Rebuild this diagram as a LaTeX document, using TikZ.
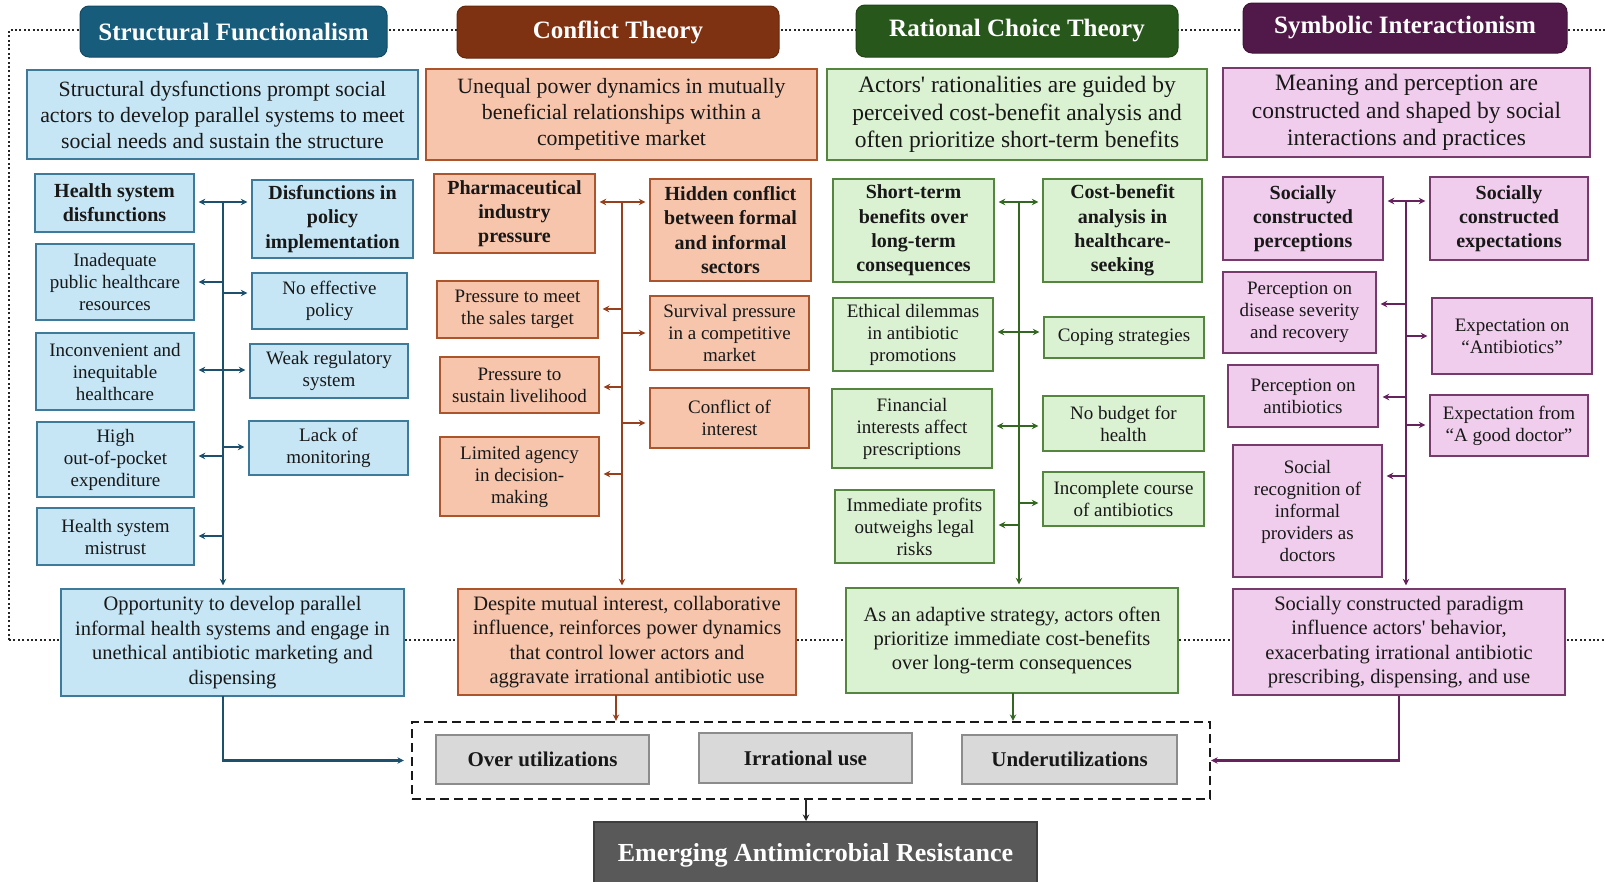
\documentclass[tikz,border=0pt]{standalone}
\usepackage{fontspec}
\setmainfont{Liberation Serif}[Ligatures=TeXOff]
\usetikzlibrary{arrows.meta}

% theory colours: T = title fill, F = box fill, B = box border, A = arrows
\definecolor{blT}{RGB}{24,92,124}
\definecolor{blF}{RGB}{198,229,245}
\definecolor{blB}{RGB}{62,122,154}
\definecolor{blA}{RGB}{28,80,108}
\definecolor{brT}{RGB}{127,50,18}
\definecolor{brF}{RGB}{246,197,172}
\definecolor{brB}{RGB}{172,84,44}
\definecolor{brA}{RGB}{150,64,30}
\definecolor{grT}{RGB}{40,87,27}
\definecolor{grF}{RGB}{218,241,210}
\definecolor{grB}{RGB}{84,134,64}
\definecolor{grA}{RGB}{52,104,34}
\definecolor{puT}{RGB}{81,25,73}
\definecolor{puF}{RGB}{241,205,237}
\definecolor{puB}{RGB}{118,58,108}
\definecolor{puA}{RGB}{102,34,92}
\definecolor{txt}{RGB}{24,24,24}
\definecolor{useF}{RGB}{217,217,217}
\definecolor{useB}{RGB}{140,140,140}
\definecolor{amrF}{RGB}{89,89,89}
\definecolor{amrB}{RGB}{62,62,62}

\tikzset{
  every node/.style={inner sep=0pt, align=center, text=txt},
  sz/.style 2 args={minimum width=#1, minimum height=#2},
  ttl/.style={rounded corners=9pt, fill=#1T, draw=#1T!80!black, line width=1pt,
    text=white, font=\fontsize{25}{29}\selectfont\bfseries},
  cbox/.style={fill=#1F, draw=#1B, line width=1.4pt},
  fdesc/.style={font=\fontsize{21.8}{26}\selectfont},
  fdescL/.style={font=\fontsize{23.5}{27.5}\selectfont},
  fbold/.style={font=\fontsize{20}{24.3}\selectfont\bfseries},
  freg/.style={font=\fontsize{19}{22}\selectfont},
  fres/.style={font=\fontsize{20.5}{24.4}\selectfont},
  usebox/.style={fill=useF, draw=useB, line width=2.6pt,
    font=\fontsize{21}{25}\selectfont\bfseries},
  tip/.style={-{Stealth[length=6.5pt,width=6.5pt]}},
  arr/.style={line width=2pt, draw=#1, tip, shorten >=4pt},
  darr/.style={line width=2pt, draw=#1,
    {Stealth[length=6.5pt,width=6.5pt]}-{Stealth[length=6.5pt,width=6.5pt]},
    shorten >=4pt, shorten <=4pt},
  trunk/.style={line width=2.6pt, draw=#1, tip, shorten >=3pt},
  conn/.style={line width=2.2pt, draw=#1, tip},
  frame/.style={line width=2pt, dash pattern=on 2pt off 2.4pt, draw=black!85},
  grpbox/.style={line width=2.2pt, dash pattern=on 9pt off 5pt, draw=black!90},
}

\begin{document}
\begin{tikzpicture}[x=1pt,y=-1pt]
\useasboundingbox (0,0) rectangle (1605,881);

% dotted frame behind the theory headings and conclusions
\draw[frame] (9,640) -- (9,30) -- (1605,30);
\draw[frame] (9,640) -- (1605,640);

% ---------------- Structural Functionalism ----------------
\node[ttl=bl, sz={307}{51}] (T1) at (233.5,31.5) {Structural Functionalism};
\node[cbox=bl, fdesc, sz={391}{89}] (D1) at (222.5,114.5)
  {Structural dysfunctions prompt social\\actors to develop parallel systems to meet\\social needs and sustain the structure};
\node[cbox=bl, fbold, sz={159}{58}] (B1) at (114.5,203) {Health system\\disfunctions};
\node[cbox=bl, fbold, sz={161}{78}] (B2) at (332.5,219) {Disfunctions in\\policy\\implementation};
\node[cbox=bl, freg, sz={158}{76}] (B3) at (115,282) {Inadequate\\public healthcare\\resources};
\node[cbox=bl, freg, sz={155}{56}] (B4) at (329.5,301) {No effective\\policy};
\node[cbox=bl, freg, sz={158}{77}] (B5) at (115,371.5) {Inconvenient and\\inequitable\\healthcare};
\node[cbox=bl, freg, sz={158}{54}] (B6) at (329,371) {Weak regulatory\\system};
\node[cbox=bl, freg, sz={157}{75}] (B7) at (115.5,459.5) {High\\out-of-pocket\\expenditure};
\node[cbox=bl, freg, sz={159}{54}] (B8) at (328.5,448) {Lack of\\monitoring};
\node[cbox=bl, freg, sz={157}{57}] (B9) at (115.5,536.5) {Health system\\mistrust};
\node[cbox=bl, fres, sz={343}{107}] (R1) at (232.5,642.5)
  {Opportunity to develop parallel\\informal health systems and engage in\\unethical antibiotic marketing and\\dispensing};

\coordinate (bt) at (223,202);
\draw[darr=blA] (B1.east |- bt) -- (B2.west |- bt);
\draw[trunk=blA] (bt) -- (R1.north -| bt);
\foreach \n/\yy/\sd in {B3/282/east, B4/293/west, B5/370/east, B6/370/west,
                        B7/456/east, B8/447/west, B9/536/east}{
  \coordinate (k\n) at (223,\yy);
  \draw[arr=blA] (k\n) -- (\n.\sd |- k\n);
}

% ---------------- Conflict Theory ----------------
\node[ttl=br, sz={322}{52}] (T2) at (618,32) {Conflict Theory};
\node[cbox=br, fdesc, sz={391}{91}] (D2) at (621.5,114.5)
  {Unequal power dynamics in mutually\\beneficial relationships within a\\competitive market};
\node[cbox=br, fbold, sz={161}{79}] (C1) at (514.5,213.5) {Pharmaceutical\\industry\\pressure};
\node[cbox=br, fbold, sz={161}{102}] (C2) at (730.5,230) {Hidden conflict\\between formal\\and informal\\sectors};
\node[cbox=br, freg, sz={161}{57}] (C3) at (517.5,309.5) {Pressure to meet\\the sales target};
\node[cbox=br, freg, sz={159}{74}] (C4) at (729.5,333) {Survival pressure\\in a competitive\\market};
\node[cbox=br, freg, sz={159}{56}] (C5) at (519.5,385) {Pressure to\\sustain livelihood};
\node[cbox=br, freg, sz={159}{60}] (C6) at (729.5,418) {Conflict of\\interest};
\node[cbox=br, freg, sz={159}{79}] (C7) at (519.5,476.5) {Limited agency\\in decision-\\making};
\node[cbox=br, fres, sz={338}{106}] (R2) at (627,642)
  {Despite mutual interest, collaborative\\influence, reinforces power dynamics\\that control lower actors and\\aggravate irrational antibiotic use};

\coordinate (ct) at (622,202);
\draw[darr=brA] (C1.east |- ct) -- (C2.west |- ct);
\draw[trunk=brA] (ct) -- (R2.north -| ct);
\foreach \n/\yy/\sd in {C3/309/east, C4/333/west, C5/387/east, C6/423/west, C7/474/east}{
  \coordinate (k\n) at (622,\yy);
  \draw[arr=brA] (k\n) -- (\n.\sd |- k\n);
}

% ---------------- Rational Choice Theory ----------------
\node[ttl=gr, sz={322}{52}] (T3) at (1017,31) {Rational Choice Theory};
\node[cbox=gr, fdescL, sz={380}{91}] (D3) at (1017,114.5)
  {Actors' rationalities are guided by\\perceived cost-benefit analysis and\\often prioritize short-term benefits};
\node[cbox=gr, fbold, sz={161}{103}] (G1) at (913.5,230.5) {Short-term\\benefits over\\long-term\\consequences};
\node[cbox=gr, fbold, sz={159}{103}] (G2) at (1122.5,230.5) {Cost-benefit\\analysis in\\healthcare-\\seeking};
\node[cbox=gr, freg, sz={160}{73}] (G3) at (913,334.5) {Ethical dilemmas\\in antibiotic\\promotions};
\node[cbox=gr, freg, sz={160}{41}] (G4) at (1124,337.5) {Coping strategies};
\node[cbox=gr, freg, sz={160}{79}] (G5) at (912,428.5) {Financial\\interests affect\\prescriptions};
\node[cbox=gr, freg, sz={161}{55}] (G6) at (1123.5,423.5) {No budget for\\health};
\node[cbox=gr, freg, sz={161}{54}] (G7) at (1123.5,499) {Incomplete course\\of antibiotics};
\node[cbox=gr, freg, sz={159}{73}] (G8) at (914.5,526.5) {Immediate profits\\outweighs legal\\risks};
\node[cbox=gr, fres, sz={332}{105}] (R3) at (1012,640.5)
  {As an adaptive strategy, actors often\\prioritize immediate cost-benefits\\over long-term consequences};

\coordinate (gt) at (1019,202);
\draw[darr=grA] (G1.east |- gt) -- (G2.west |- gt);
\draw[trunk=grA] (gt) -- (R3.north -| gt);
\foreach \n/\yy/\sd in {G3/332/east, G4/332/west, G5/426/east, G6/426/west,
                        G7/503/west, G8/525/east}{
  \coordinate (k\n) at (1019,\yy);
  \draw[arr=grA] (k\n) -- (\n.\sd |- k\n);
}

% ---------------- Symbolic Interactionism ----------------
\node[ttl=pu, sz={324}{50}] (T4) at (1405,28) {Symbolic Interactionism};
\node[cbox=pu, fdescL, sz={367}{89}] (D4) at (1406.5,112.5)
  {Meaning and perception are\\constructed and shaped by social\\interactions and practices};
\node[cbox=pu, fbold, sz={160}{83}] (P1) at (1303,218.5) {Socially\\constructed\\perceptions};
\node[cbox=pu, fbold, sz={158}{83}] (P2) at (1509,218.5) {Socially\\constructed\\expectations};
\node[cbox=pu, freg, sz={153}{81}] (P3) at (1299.5,312.5) {Perception on\\disease severity\\and recovery};
\node[cbox=pu, freg, sz={160}{76}] (P4) at (1512,336) {Expectation on\\“Antibiotics”};
\node[cbox=pu, freg, sz={150}{62}] (P5) at (1303,396) {Perception on\\antibiotics};
\node[cbox=pu, freg, sz={158}{61}] (P6) at (1509,425.5) {Expectation from\\“A good doctor”};
\node[cbox=pu, freg, sz={149}{132}] (P7) at (1307.5,511) {Social\\recognition of\\informal\\providers as\\doctors};
\node[cbox=pu, fres, sz={332}{106}] (R4) at (1399,642)
  {Socially constructed paradigm\\influence actors' behavior,\\exacerbating irrational antibiotic\\prescribing, dispensing, and use};

\coordinate (pt) at (1406,201);
\draw[darr=puA] (P1.east |- pt) -- (P2.west |- pt);
\draw[trunk=puA] (pt) -- (R4.north -| pt);
\foreach \n/\yy/\sd in {P3/304/east, P4/336/west, P5/397/east, P6/425/west, P7/476/east}{
  \coordinate (k\n) at (1406,\yy);
  \draw[arr=puA] (k\n) -- (\n.\sd |- k\n);
}

% ---------------- outcomes ----------------
\node[grpbox, sz={798}{77}] (grp) at (811,760.5) {};
\node[usebox, sz={213}{49}] (O1) at (542.5,759.5) {Over utilizations};
\node[usebox, sz={213}{50}] (O2) at (805.5,758) {Irrational use};
\node[usebox, sz={215}{49}] (O3) at (1069.5,759.5) {Underutilizations};
\node[fill=amrF, draw=amrB, line width=2pt, sz={443}{66}, text=white,
  font=\fontsize{26}{30}\selectfont\bfseries] (E) at (815.5,855) {Emerging Antimicrobial Resistance};

\coordinate (c1b) at (223,696);
\coordinate (c2b) at (616,695);
\coordinate (c3b) at (1013,693);
\coordinate (c5b) at (806,799);
\draw[conn=blA, shorten >=7pt] (c1b) |- (grp.west);
\draw[conn=brA] (c2b) -- (c2b |- grp.north);
\draw[conn=grA] (c3b) -- (c3b |- grp.north);
\draw[conn=puA] (R4.south) |- (grp.east);
\draw[conn=black!85, line width=1.8pt] (c5b) -- (c5b |- E.north);

\end{tikzpicture}
\end{document}
